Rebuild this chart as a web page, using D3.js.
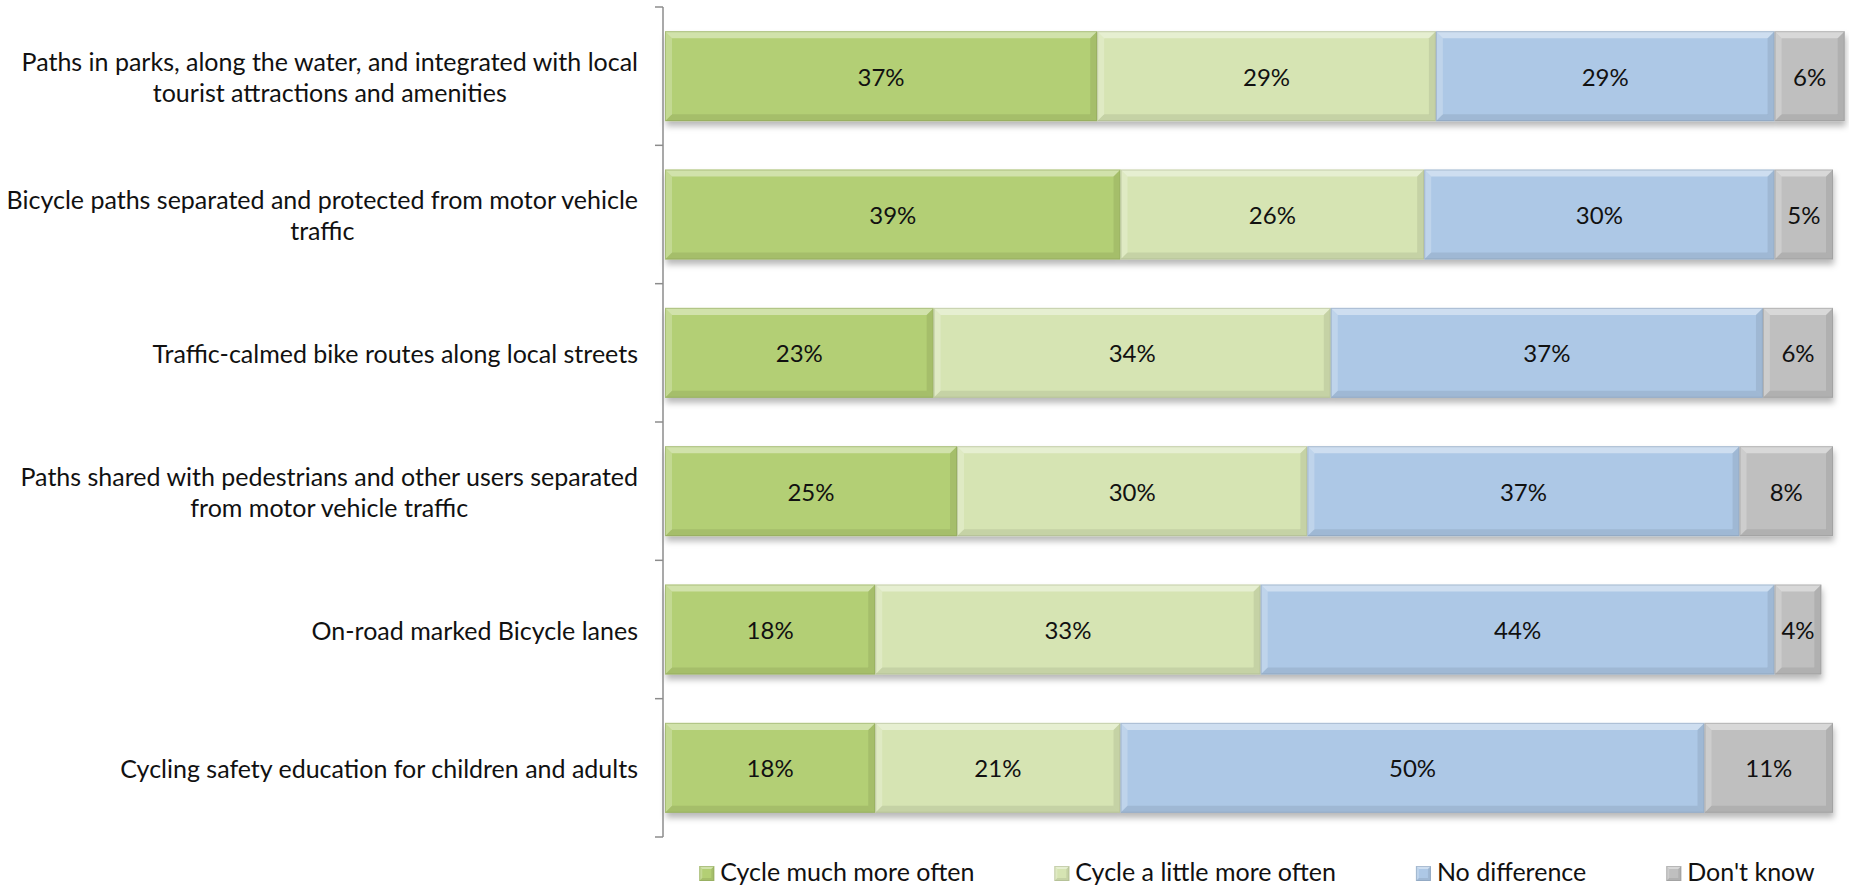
<!DOCTYPE html>
<html>
<head>
<meta charset="utf-8">
<script src="https://cdn.jsdelivr.net/npm/d3@7"></script>
<style>
  html, body { margin: 0; padding: 0; background: #ffffff; }
  svg text { font-family: Lato, "Open Sans", sans-serif; fill: #111; }
</style>
</head>
<body>
<svg id="chart" width="1849" height="887"></svg>
<script>
// Survey items (line breaks mark where each label wraps)
const categories = [
  "Paths in parks, along the water, and integrated with local\ntourist attractions and amenities",
  "Bicycle paths separated and protected from motor vehicle\ntraffic",
  "Traffic-calmed bike routes along local streets",
  "Paths shared with pedestrians and other users separated\nfrom motor vehicle traffic",
  "On-road marked Bicycle lanes",
  "Cycling safety education for children and adults"
];
const seriesNames = ["Cycle much more often", "Cycle a little more often", "No difference", "Don't know"];
const muchMore   = [37, 39, 23, 25, 18, 18];
const littleMore = [29, 26, 34, 30, 33, 21];
const noDiff     = [29, 30, 37, 37, 44, 50];
const dontKnow   = [6, 5, 6, 8, 4, 11];
const seriesColors = ["#b3cf74", "#d6e4b3", "#adc8e6", "#bfbfbf"];

const seriesValues = [muchMore, littleMore, noDiff, dontKnow];
const rows = categories.map((c, i) => {
  const r = { category: c };
  seriesNames.forEach((s, k) => { r[s] = seriesValues[k][i]; });
  return r;
});
const stacked = d3.stack().keys(seriesNames)(rows);

const svg = d3.select("#chart");
const x = d3.scaleLinear().domain([0, 100]).range([665, 1833]);
const y = d3.scaleBand().domain(categories).range([7, 837]).paddingInner(0.35).paddingOuter(0.175);
const color = d3.scaleOrdinal().domain(seriesNames).range(seriesColors);

const defs = svg.append("defs");
const shadow = defs.append("filter").attr("id", "barShadow")
  .attr("x", "-5%").attr("y", "-20%").attr("width", "110%").attr("height", "150%");
shadow.append("feDropShadow").attr("dx", 1).attr("dy", 5).attr("stdDeviation", 3)
  .attr("flood-color", "#000").attr("flood-opacity", 0.28);

// Bevelled rectangle: base fill plus light/dark edge facets
function bevel(g, x0, x1, y0, y1, fill, b) {
  const w = x1 - x0;
  b = Math.min(b, w / 2, (y1 - y0) / 2);
  const dark = d3.color(fill).darker(0.7);
  g.append("rect").attr("x", x0).attr("y", y0).attr("width", w).attr("height", y1 - y0)
    .attr("fill", fill);
  const facets = [
    { p: [[x0, y0], [x1, y0], [x1 - b, y0 + b], [x0 + b, y0 + b]], c: "#fff", o: 0.4 },
    { p: [[x0, y0], [x0 + b, y0 + b], [x0 + b, y1 - b], [x0, y1]], c: "#fff", o: 0.22 },
    { p: [[x0, y1], [x0 + b, y1 - b], [x1 - b, y1 - b], [x1, y1]], c: "#000", o: 0.08 },
    { p: [[x1, y0], [x1, y1], [x1 - b, y1 - b], [x1 - b, y0 + b]], c: "#000", o: 0.08 }
  ];
  facets.forEach(f => {
    g.append("polygon").attr("points", f.p.map(q => q.join(",")).join(" "))
      .attr("fill", f.c).attr("fill-opacity", f.o);
  });
  g.append("rect").attr("x", x0 + 0.5).attr("y", y0 + 0.5).attr("width", w - 1).attr("height", y1 - y0 - 1)
    .attr("fill", "none").attr("stroke", dark).attr("stroke-opacity", 0.5).attr("stroke-width", 1);
}

// Bars, one shadowed group per category
const rowGroups = categories.map(c => svg.append("g").attr("filter", "url(#barShadow)"));
stacked.forEach(layer => {
  layer.forEach((d, i) => {
    const g = rowGroups[i].append("g");
    const y0 = y(categories[i]), y1 = y0 + y.bandwidth();
    bevel(g, x(d[0]), x(d[1]), y0, y1, color(layer.key), 7);
  });
});

// Value labels
stacked.forEach(layer => {
  layer.forEach((d, i) => {
    svg.append("text")
      .attr("x", (x(d[0]) + x(d[1])) / 2)
      .attr("y", y(categories[i]) + y.bandwidth() / 2)
      .attr("text-anchor", "middle").attr("dominant-baseline", "central")
      .style("font-size", "24px")
      .text((d[1] - d[0]) + "%");
  });
});

// Category axis: line with ticks at band boundaries
const axisX = x(0) - 2;
const [r0, r1] = y.range();
svg.append("line").attr("x1", axisX).attr("x2", axisX).attr("y1", r0).attr("y2", r1)
  .attr("stroke", "#8c8c8c").attr("stroke-width", 1.5);
d3.range(categories.length + 1).forEach(k => {
  const ty = r0 + k * y.step();
  svg.append("line").attr("x1", axisX - 8).attr("x2", axisX).attr("y1", ty).attr("y2", ty)
    .attr("stroke", "#8c8c8c").attr("stroke-width", 1.5);
});

// Category labels: lines centred on one another, block right-aligned to the axis
const labelRight = axisX - 25;
const lineH = 31;
categories.forEach(c => {
  const lines = c.split("\n");
  const g = svg.append("g");
  const texts = lines.map((ln, j) => g.append("text")
    .style("font-size", "25px")
    .attr("dominant-baseline", "central")
    .attr("text-anchor", "middle")
    .attr("y", y(c) + y.bandwidth() / 2 + (j - (lines.length - 1) / 2) * lineH)
    .text(ln));
  const maxW = d3.max(texts, t => t.node().getComputedTextLength());
  texts.forEach(t => t.attr("x", labelRight - maxW / 2));
});

// Legend, flowed left to right and centred under the plot
const legend = svg.append("g");
const sw = 15, gapText = 6, gapItem = 80;
let cursor = 0;
seriesNames.forEach(s => {
  const g = legend.append("g");
  bevel(g, 0, sw, -sw, 0, color(s), 3);
  const t = g.append("text").attr("x", sw + gapText).attr("y", 0)
    .style("font-size", "25px").text(s);
  const w = sw + gapText + t.node().getComputedTextLength();
  g.attr("transform", `translate(${cursor},0)`);
  cursor += w + gapItem;
});
const legendW = cursor - gapItem;
legend.attr("transform", `translate(${(x(0) + x(100)) / 2 + 8 - legendW / 2},881)`);
</script>
</body>
</html>
